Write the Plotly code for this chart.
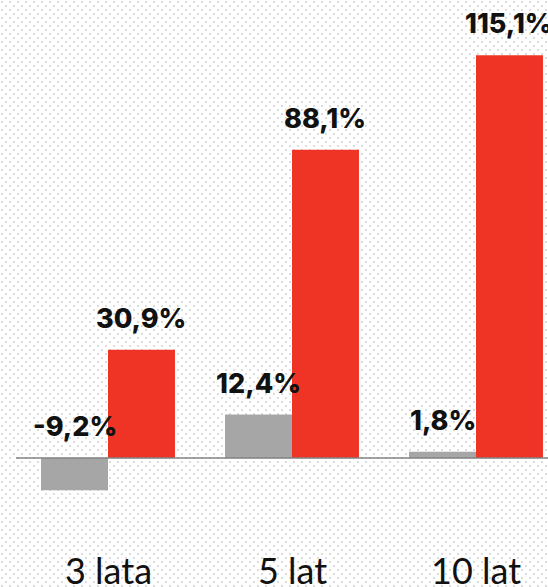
import base64
import plotly.graph_objects as go

categories = ["3 lata", "5 lat", "10 lat"]
gray_values = [-9.2, 12.4, 1.8]
red_values = [30.9, 88.1, 115.1]
gray_labels = ["-9,2%", "12,4%", "1,8%"]
red_labels = ["30,9%", "88,1%", "115,1%"]

W, H = 548, 587
ML = 16
ZERO_PX = 458
PX_PER_UNIT = 3.5
y_top = ZERO_PX / PX_PER_UNIT
y_bot = -(H - ZERO_PX) / PX_PER_UNIT

GRAY = "#a6a6a6"
RED = "#ef3425"
BARGAP = 0.272
half = (1 - BARGAP) / 4

svg = (
    f'<svg xmlns="http://www.w3.org/2000/svg" width="{W}" height="{H}">'
    '<defs><pattern id="p" width="8" height="8" patternUnits="userSpaceOnUse">'
    '<rect x="1" y="1" width="2" height="2" fill="#dcdcdc"/>'
    '<rect x="5" y="5" width="2" height="2" fill="#dcdcdc"/>'
    '</pattern></defs>'
    f'<rect width="{W}" height="{H}" fill="url(#p)"/></svg>'
)
src = "data:image/svg+xml;base64," + base64.b64encode(svg.encode()).decode()

fig = go.Figure()
fig.add_trace(go.Bar(x=categories, y=gray_values, marker=dict(color=GRAY, line=dict(width=0)),
                     hoverinfo="skip"))
fig.add_trace(go.Bar(x=categories, y=red_values, marker=dict(color=RED, line=dict(width=0)),
                     hoverinfo="skip"))

label_font = dict(family="Inter", size=27, color="#111111", weight=800)
for i, (gv, rv) in enumerate(zip(gray_values, red_values)):
    fig.add_annotation(x=i - half, y=max(gv, 0), text=gray_labels[i], showarrow=False,
                       xref="x", yref="y", yanchor="bottom", yshift=13, font=label_font)
    fig.add_annotation(x=i + half, y=max(rv, 0), text=red_labels[i], showarrow=False,
                       xref="x", yref="y", yanchor="bottom", yshift=13, font=label_font)
    fig.add_annotation(x=i, y=0, text=categories[i], showarrow=False, xref="x", yref="paper",
                       yanchor="top", yshift=41, font=dict(family="Lato", size=36, color="#111111"))

fig.add_shape(type="line", xref="paper", yref="y", x0=0, x1=1, y0=0, y1=0,
              line=dict(color="rgba(130,130,130,0.75)", width=2), layer="above")

fig.add_layout_image(dict(source=src, xref="paper", yref="paper", x=-ML / (W - ML), y=1,
                          sizex=W / (W - ML), sizey=1, sizing="stretch", xanchor="left",
                          yanchor="top", layer="below"))

fig.update_layout(
    width=W, height=H,
    margin=dict(l=ML, r=0, t=0, b=0),
    paper_bgcolor="white", plot_bgcolor="rgba(0,0,0,0)",
    barmode="group", bargap=BARGAP, bargroupgap=0,
    showlegend=False,
    xaxis=dict(type="category", range=[-0.5, 2.5 - 20 / 184], showticklabels=False,
               showgrid=False, zeroline=False, fixedrange=True),
    yaxis=dict(range=[y_bot, y_top], showticklabels=False, showgrid=False, zeroline=False,
               fixedrange=True),
)
fig.write_html("out.html", config={"displayModeBar": False},
               post_script="document.body.style.margin='0';document.body.style.overflow='hidden';")
